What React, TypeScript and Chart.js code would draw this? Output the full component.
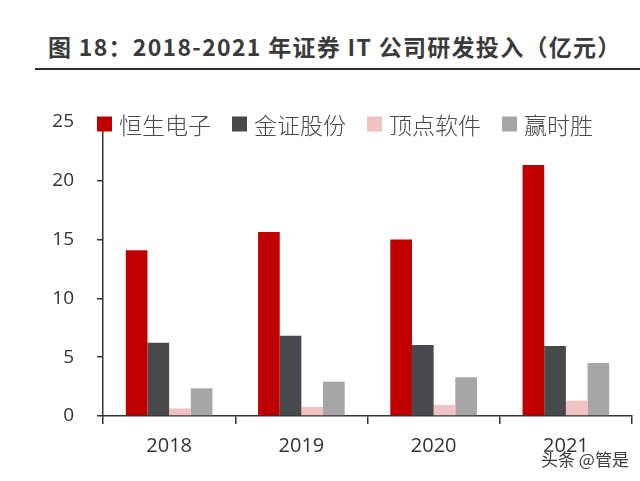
import React, { useEffect, useRef } from "react";
import { Chart, registerables } from "chart.js";

Chart.register(...registerables);

const categories = ["2018", "2019", "2020", "2021"];
const seriesNames = ["恒生电子", "金证股份", "顶点软件", "赢时胜"];
const hundsun = [14.1, 15.65, 15.0, 21.35];
const kingdom = [6.23, 6.83, 6.04, 5.95];
const apex = [0.65, 0.77, 0.94, 1.3];
const yss = [2.35, 2.92, 3.29, 4.51];
const seriesColors = ["#C00000", "#48494D", "#F0C2C2", "#A6A6A9"];
const yTicks = [0, 5, 10, 15, 20, 25];

const titleText = "图 18：2018-2021 年证券 IT 公司研发投入（亿元）";
const watermark = "头条 @管是";

const legendPlugin = {
  id: "customLegend",
  afterDraw(chart: any) {
    const ctx = chart.ctx as CanvasRenderingContext2D;
    ctx.save();
    ctx.font = '300 23px "Noto Sans CJK SC"';
    ctx.textBaseline = "middle";
    let x = 97;
    const yc = 124;
    chart.data.datasets.forEach((ds: any) => {
      ctx.fillStyle = ds.backgroundColor;
      ctx.fillRect(x, yc - 7.5, 15, 15);
      x += 15 + 7;
      ctx.fillStyle = "#4a4a4a";
      ctx.fillText(ds.label, x, yc + 1);
      x += ctx.measureText(ds.label).width + 21;
    });
    ctx.restore();
  },
};

export default function App() {
  const ref = useRef<HTMLCanvasElement | null>(null);

  useEffect(() => {
    if (!ref.current) return;
    const data = [hundsun, kingdom, apex, yss];
    const chart = new Chart(ref.current, {
      type: "bar",
      data: {
        labels: categories,
        datasets: seriesNames.map((name, i) => ({
          label: name,
          data: data[i],
          backgroundColor: seriesColors[i],
          borderWidth: 0,
          categoryPercentage: 0.655,
          barPercentage: 1.0,
        })),
      },
      options: {
        animation: false,
        responsive: false,
        devicePixelRatio: 1,
        layout: { padding: { top: 122, right: 8, left: 0, bottom: 0 } },
        plugins: {
          legend: { display: false },
          tooltip: { enabled: false },
          title: { display: false },
        },
        scales: {
          x: {
            offset: true,
            grid: {
              display: true,
              offset: true,
              drawOnChartArea: false,
              drawTicks: true,
              tickLength: 8,
              color: "#333333",
              lineWidth: 1.5,
            },
            border: { display: true, color: "#333333", width: 1.5 },
            ticks: {
              color: "#333333",
              font: { family: '"Open Sans"', size: 20 },
              padding: 10,
            },
            afterFit: (scale: any) => {
              scale.height = 65;
            },
          },
          y: {
            min: 0,
            max: 25,
            afterBuildTicks: (scale: any) => {
              scale.ticks = yTicks.map((v) => ({ value: v }));
            },
            grid: {
              display: true,
              drawOnChartArea: false,
              drawTicks: true,
              tickLength: 6,
              color: "#333333",
              lineWidth: 1.5,
            },
            border: { display: true, color: "#333333", width: 1.5 },
            ticks: {
              color: "#333333",
              font: { family: '"Open Sans"', size: 19 },
              padding: 23,
            },
            afterFit: (scale: any) => {
              scale.width = 103;
            },
          },
        },
      },
      plugins: [legendPlugin],
    });
    return () => chart.destroy();
  }, []);

  return (
    <div
      style={{
        position: "fixed",
        left: 0,
        top: 0,
        width: 640,
        height: 481,
        background: "#ffffff",
        overflow: "hidden",
      }}
    >
      <div
        style={{
          position: "absolute",
          left: 35,
          top: 68,
          width: 605,
          height: 0,
          borderTop: "2px solid #2e2e2e",
        }}
      />
      <div
        style={{
          position: "absolute",
          left: 48,
          top: 30,
          whiteSpace: "nowrap",
          fontFamily: '"Noto Sans CJK SC"',
          fontWeight: 700,
          fontSize: 23,
          letterSpacing: 1.3,
          lineHeight: "32px",
          color: "#3a3a3a",
        }}
      >
        {titleText}
      </div>
      <canvas
        ref={ref}
        width={640}
        height={481}
        style={{ position: "absolute", left: 0, top: 0, width: 640, height: 481 }}
      />
      <div
        style={{
          position: "absolute",
          left: 541,
          top: 447,
          whiteSpace: "nowrap",
          fontFamily: '"Noto Sans CJK SC"',
          fontSize: 17,
          lineHeight: "24px",
          color: "#3c3c3c",
          textShadow: "0 0 2px #ffffff, 0 0 2px #ffffff",
        }}
      >
        {watermark}
      </div>
    </div>
  );
}
